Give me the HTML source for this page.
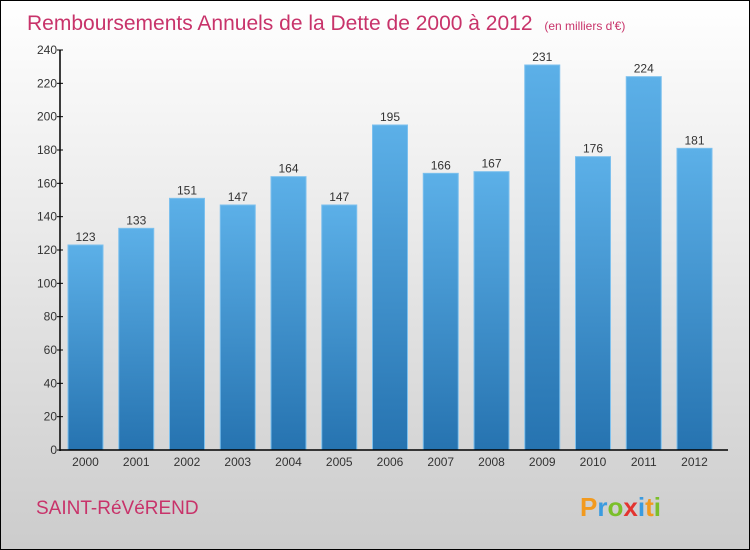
<!DOCTYPE html>
<html><head><meta charset="utf-8"><style>
body{margin:0;width:750px;height:550px;overflow:hidden}
svg{display:block;font-family:"Liberation Sans",sans-serif}
</style></head><body>
<svg id="c" width="750" height="550" viewBox="0 0 750 550">
<defs>
<linearGradient id="bg" x1="0" y1="0" x2="0" y2="1"><stop offset="0" stop-color="#ffffff"/><stop offset="1" stop-color="#cccccc"/></linearGradient>
<linearGradient id="bar" x1="0" y1="0" x2="0" y2="1"><stop offset="0" stop-color="#5cb0e8"/><stop offset="1" stop-color="#2673b0"/></linearGradient>
</defs>
<rect x="0.5" y="0.5" width="749" height="549" fill="url(#bg)" stroke="#000"/>
<text x="27" y="30" font-size="21" fill="#c8336a">Remboursements Annuels de la Dette de 2000 à 2012 <tspan font-size="12" dx="6">(en milliers d'€)</tspan></text>
<g id="bars"></g>
<g id="axes"></g>
<text x="36" y="514" font-size="19" fill="#c8336a">SAINT-RéVéREND</text>
<text x="580" y="516" font-size="26" font-weight="bold" fill="#3a9be0"><tspan fill="#f29a1e">P</tspan><tspan fill="#3a9be0">r</tspan><tspan fill="#7bbf2a">o</tspan><tspan fill="#e3342f">x</tspan><tspan fill="#3a9be0">i</tspan><tspan fill="#f29a1e">t</tspan><tspan fill="#7bbf2a">i</tspan></text>
</svg>
<script>
const categories=["2000","2001","2002","2003","2004","2005","2006","2007","2008","2009","2010","2011","2012"];
const values=[123,133,151,147,164,147,195,166,167,231,176,224,181];
const yTicks=[0,20,40,60,80,100,120,140,160,180,200,220,240];
const NS="http://www.w3.org/2000/svg";
const x0=60,yBase=450,yTop=50,yMax=240;
const y=v=>yBase-(v/yMax)*(yBase-yTop);
const step=50.75,first=85.5,bw=35;
const xc=i=>first+i*step;
function mk(t,a,p){const e=document.createElementNS(NS,t);for(const k in a)e.setAttribute(k,a[k]);p.appendChild(e);return e;}
const gb=document.getElementById('bars'),ga=document.getElementById('axes');
values.forEach((v,i)=>{
 const r=mk('rect',{x:xc(i)-bw/2,y:y(v),width:bw,height:yBase-y(v),fill:'url(#bar)',stroke:'#7cc0ee','stroke-width':1},gb);
 
 
 const t=mk('text',{x:xc(i),y:y(v)-4,'text-anchor':'middle','font-size':12,fill:'#333'},gb);
 t.textContent=v;
 
 
 const c=mk('text',{x:xc(i),y:466,'text-anchor':'middle','font-size':12,fill:'#333'},ga);
 c.textContent=categories[i];
 
 
});
yTicks.forEach(v=>{
 const l=mk('line',{x1:x0-3,x2:x0+3,y1:y(v),y2:y(v),stroke:'#000'},ga);
 
 
 const t=mk('text',{x:x0-3,y:y(v)+4,'text-anchor':'end','font-size':12,fill:'#333'},ga);
 t.textContent=v;
 
 
});
const ya=mk('line',{x1:x0,x2:x0,y1:yTop,y2:yBase+1,stroke:'#000','stroke-width':1.5},ga);


const xa=mk('line',{x1:x0,x2:728,y1:yBase,y2:yBase,stroke:'#000','stroke-width':1.5},ga);


</script>
</body></html>
